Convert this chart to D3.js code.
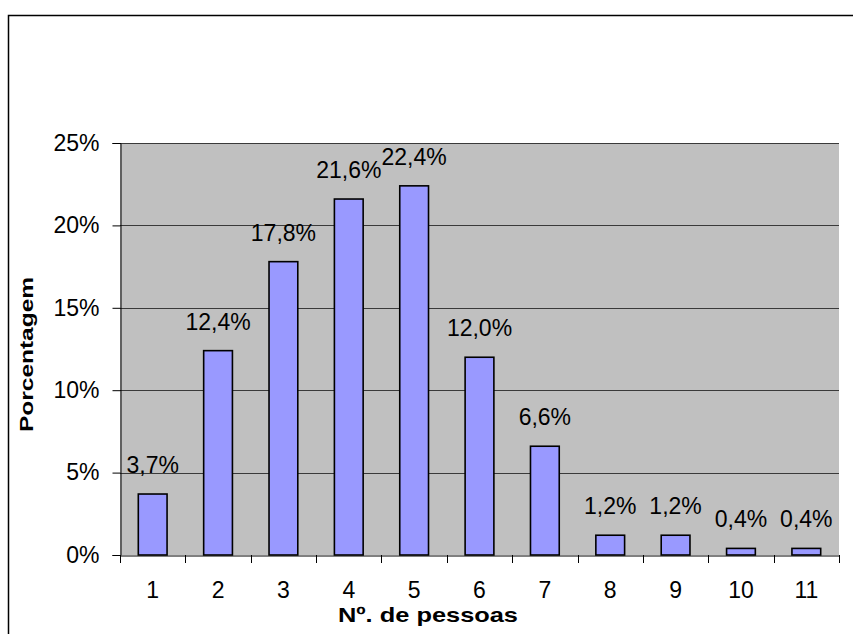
<!DOCTYPE html>
<html><head><meta charset="utf-8">
<script src="https://cdn.jsdelivr.net/npm/d3@7"></script>
<style>body{margin:0;background:#fff}svg{display:block;font-family:"Liberation Sans",Arial,sans-serif}</style>
</head><body><svg id="c" width="853" height="634"></svg>
<script>
const categories = ["1","2","3","4","5","6","7","8","9","10","11"];
const values = [3.7,12.4,17.8,21.6,22.4,12.0,6.6,1.2,1.2,0.4,0.4];
const labels = ["3,7%","12,4%","17,8%","21,6%","22,4%","12,0%","6,6%","1,2%","1,2%","0,4%","0,4%"];
const yTicks = [0,5,10,15,20,25];
const yTickLabels = ["0%","5%","10%","15%","20%","25%"];

const svg = d3.select("#c");
const m = {l:120, r:839, t:143, b:555};
const fs = "23px";

svg.append("rect").attr("x",8.5).attr("y",15.5).attr("width",900).attr("height",700)
  .attr("fill","#fff").attr("stroke","#000").attr("stroke-width",1.5);

const x = d3.scaleBand().domain(categories).range([m.l,m.r]).paddingInner(0.56).paddingOuter(0.28);
const y = d3.scaleLinear().domain([0,25]).range([m.b,m.t]);

svg.append("rect").attr("x",m.l).attr("y",m.t).attr("width",m.r-m.l).attr("height",m.b-m.t).attr("fill","#c0c0c0");

svg.append("g").selectAll("line").data(yTicks.slice(1)).join("line")
  .attr("x1",m.l).attr("x2",m.r).attr("y1",d=>Math.round(y(d))+0.5).attr("y2",d=>Math.round(y(d))+0.5)
  .attr("stroke","#3a3a3a").attr("stroke-width",1);

// y axis
const yAxis = d3.axisLeft(y).tickValues(yTicks).tickFormat((d,i)=>yTickLabels[i]).tickSize(8).tickPadding(13);
const gy = svg.append("g").attr("transform",`translate(${m.l+0.5},0)`).call(yAxis);
gy.select(".domain").attr("stroke","#000");
gy.selectAll(".tick line").attr("stroke","#000");
gy.selectAll("text").attr("font-size",fs).attr("fill","#000").attr("font-family","Liberation Sans, Arial, sans-serif");

// x axis
const xAxis = d3.axisBottom(x).tickSize(0).tickPadding(26);
const gx = svg.append("g").attr("transform",`translate(0,${m.b+0.5})`).call(xAxis);
gx.select(".domain").attr("stroke","#000");
gx.selectAll("text").attr("font-size",fs).attr("fill","#000").attr("font-family","Liberation Sans, Arial, sans-serif");
// category boundary ticks
const bounds = d3.range(categories.length+1).map(i=>m.l + i*(m.r-m.l)/categories.length);
svg.append("g").selectAll("line").data(bounds).join("line")
  .attr("x1",d=>Math.round(d)+0.5).attr("x2",d=>Math.round(d)+0.5)
  .attr("y1",m.b).attr("y2",m.b+8).attr("stroke","#000");

// bars
svg.append("g").selectAll("rect").data(values).join("rect")
  .attr("x",(d,i)=>x(categories[i])).attr("width",x.bandwidth())
  .attr("y",d=>y(d)).attr("height",d=>y(0)-y(d))
  .attr("fill","#9999ff").attr("stroke","#000").attr("stroke-width",1.6);

// labels
svg.append("g").selectAll("text").data(values).join("text")
  .attr("x",(d,i)=>x(categories[i])+x.bandwidth()/2).attr("y",d=>y(d)-21)
  .attr("text-anchor","middle").attr("font-size",fs).attr("fill","#000")
  .text((d,i)=>labels[i]);

// axis titles
svg.append("text").attr("x",338).attr("y",622)
  .attr("font-size","21px").attr("font-weight","bold")
  .attr("textLength",180).attr("lengthAdjust","spacingAndGlyphs").text("Nº. de pessoas");
svg.append("text").attr("transform","translate(33,432) rotate(-90)")
  .attr("font-size","18px").attr("font-weight","bold")
  .attr("textLength",155).attr("lengthAdjust","spacingAndGlyphs").text("Porcentagem");
</script></body></html>
